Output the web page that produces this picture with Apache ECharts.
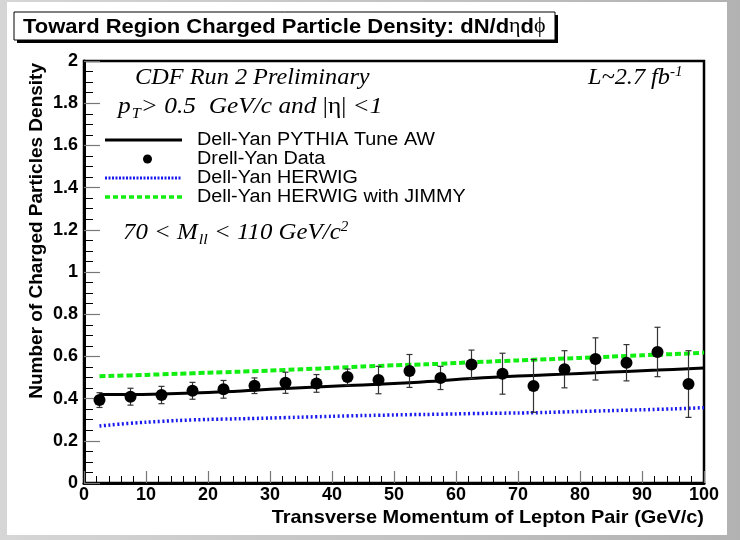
<!DOCTYPE html>
<html>
<head>
<meta charset="utf-8">
<script src="https://cdn.jsdelivr.net/npm/echarts@6/dist/echarts.min.js"></script>
<style>
  html, body { margin: 0; padding: 0; }
  #chart { width: 740px; height: 540px; }
</style>
</head>
<body>
<div id="chart"></div>
<script>
// Transverse momentum bin centres (GeV/c)
const binCenters = [2.5, 7.5, 12.5, 17.5, 22.5, 27.5, 32.5, 37.5, 42.5, 47.5,
                    52.5, 57.5, 62.5, 67.5, 72.5, 77.5, 82.5, 87.5, 92.5, 97.5];
// Drell-Yan data: density and its uncertainty
const dataValues = [0.393, 0.409, 0.417, 0.437, 0.444, 0.461, 0.475, 0.472, 0.502, 0.488,
                    0.531, 0.498, 0.562, 0.518, 0.460, 0.539, 0.588, 0.570, 0.621, 0.469];
const dataErrors = [0.035, 0.040, 0.041, 0.040, 0.042, 0.037, 0.050, 0.042, 0.038, 0.065,
                    0.078, 0.055, 0.068, 0.097, 0.125, 0.088, 0.100, 0.086, 0.117, 0.158];
// Model predictions, sampled along pT
const curvePt      = [2.5, 7.5, 12.5, 17.5, 22.5, 27.5, 32.5, 37.5, 42.5, 47.5,
                      52.5, 57.5, 62.5, 67.5, 72.5, 77.5, 82.5, 87.5, 92.5, 97.5, 100];
const pythiaAW     = [0.420, 0.420, 0.422, 0.426, 0.432, 0.440, 0.448, 0.455, 0.462, 0.468,
                      0.475, 0.485, 0.495, 0.503, 0.510, 0.516, 0.523, 0.529, 0.535, 0.542, 0.545];
const herwig       = [0.270, 0.283, 0.292, 0.299, 0.303, 0.306, 0.310, 0.314, 0.318, 0.321,
                      0.324, 0.326, 0.329, 0.331, 0.333, 0.337, 0.341, 0.345, 0.349, 0.354, 0.357];
const herwigJimmy  = [0.506, 0.510, 0.515, 0.520, 0.525, 0.530, 0.536, 0.542, 0.549, 0.555,
                      0.560, 0.565, 0.572, 0.578, 0.584, 0.590, 0.596, 0.602, 0.608, 0.614, 0.618];
// Axis ticks
const xTicks = [0, 10, 20, 30, 40, 50, 60, 70, 80, 90, 100];
const yTicks = [0, 0.2, 0.4, 0.6, 0.8, 1, 1.2, 1.4, 1.6, 1.8, 2];

const legendNames = ['Dell-Yan PYTHIA Tune AW', 'Drell-Yan Data', 'Dell-Yan HERWIG', 'Dell-Yan HERWIG with JIMMY'];

const pairs = (xs, ys) => xs.map((x, i) => [x, ys[i]]);
const errData = binCenters.map((x, i) => [x, dataValues[i] - dataErrors[i], dataValues[i] + dataErrors[i]]);

const SANS = 'Arial, "Liberation Sans", Helvetica, sans-serif';
const SERIF = '"Times New Roman", "Liberation Serif", serif';
const WIDE = 1.08; // horizontal stretch of the annotation lettering

const chart = echarts.init(document.getElementById('chart'), null, { renderer: 'canvas' });

const legendX0 = 105, legendX1 = 182, legendTextX = 197;
const legendRows = [140, 159, 178, 197];

chart.setOption({
  animation: false,
  backgroundColor: {
    type: 'linear', x: 0, y: 0, x2: 1, y2: 0,
    colorStops: [{ offset: 0, color: '#d6d6d6' }, { offset: 1, color: '#b2b2b2' }]
  },
  grid: {
    left: 84, right: 36, top: 61, bottom: 57,
    show: true, borderColor: '#000', borderWidth: 2.5, backgroundColor: 'transparent'
  },
  xAxis: {
    type: 'value', min: 0, max: 100, interval: 10,
    axisLine: { show: true, onZero: false, lineStyle: { color: '#000', width: 3 } },
    axisTick: { show: true, inside: true, length: 12, lineStyle: { color: '#777', width: 1.2 } },
    minorTick: { show: true, splitNumber: 5, length: 7, lineStyle: { color: '#000', width: 1 } },
    splitLine: { show: false },
    axisLabel: {
      margin: 3, color: '#000', fontFamily: SANS, fontWeight: 'bold', fontSize: 18,
      formatter: v => (xTicks.includes(v) ? String(v) : '')
    }
  },
  yAxis: {
    type: 'value', min: 0, max: 2, interval: 0.2,
    axisLine: { show: true, onZero: false, lineStyle: { color: '#000', width: 3 } },
    axisTick: { show: true, inside: true, length: 16, lineStyle: { color: '#777', width: 1.2 } },
    minorTick: { show: true, splitNumber: 4, length: 9, lineStyle: { color: '#000', width: 1 } },
    splitLine: { show: false },
    axisLabel: {
      margin: 6, color: '#000', fontFamily: SANS, fontWeight: 'bold', fontSize: 18,
      formatter: v => {
        const t = yTicks.find(y => Math.abs(y - v) < 1e-9);
        return t === undefined ? '' : String(t);
      }
    }
  },
  series: [
    {
      name: legendNames[2], type: 'line', data: pairs(curvePt, herwig),
      smooth: true, showSymbol: false, z: 2,
      lineStyle: { color: '#1a1aee', width: 3.5, type: [2, 2.5] }
    },
    {
      name: legendNames[0], type: 'line', data: pairs(curvePt, pythiaAW),
      smooth: true, showSymbol: false, z: 3,
      lineStyle: { color: '#000', width: 3 }
    },
    {
      name: legendNames[3], type: 'line', data: pairs(curvePt, herwigJimmy),
      smooth: true, showSymbol: false, z: 3,
      lineStyle: { color: '#11ee11', width: 4, type: [6, 3] }
    },
    {
      name: 'errors', type: 'custom', z: 4, data: errData,
      renderItem: (params, api) => {
        const x = api.value(0);
        const lo = api.coord([x, api.value(1)]);
        const hi = api.coord([x, api.value(2)]);
        const cap = 3;
        const st = { stroke: '#333', lineWidth: 1.2 };
        return {
          type: 'group',
          children: [
            { type: 'line', shape: { x1: lo[0], y1: lo[1], x2: hi[0], y2: hi[1] }, style: st },
            { type: 'line', shape: { x1: lo[0] - cap, y1: lo[1], x2: lo[0] + cap, y2: lo[1] }, style: st },
            { type: 'line', shape: { x1: hi[0] - cap, y1: hi[1], x2: hi[0] + cap, y2: hi[1] }, style: st }
          ]
        };
      }
    },
    {
      name: legendNames[1], type: 'scatter', data: pairs(binCenters, dataValues),
      symbol: 'circle', symbolSize: 12, z: 5,
      itemStyle: { color: '#000', opacity: 1 }
    }
  ],
  graphic: [
    // white page panel
    { type: 'rect', z: -10, silent: true, shape: { x: 7, y: 2, width: 720, height: 533 }, style: { fill: '#fff' } },
    // title box with drop shadow
    { type: 'rect', z: 10, shape: { x: 17, y: 15, width: 541, height: 28 }, style: { fill: '#000' } },
    { type: 'rect', z: 11, shape: { x: 14, y: 12, width: 541, height: 28 }, style: { fill: '#fff', stroke: '#000', lineWidth: 1 } },
    {
      type: 'text', z: 12, x: 23, y: 27, scaleX: 1.1,
      style: {
        text: '{b|Toward Region Charged Particle Density: dN/d}{s|η}{b|d}{s|ϕ}',
        verticalAlign: 'middle',
        rich: {
          b: { fontFamily: SANS, fontWeight: 'bold', fontSize: 20, fill: '#000' },
          s: { fontFamily: SERIF, fontSize: 20, fill: '#000' }
        }
      }
    },
    // annotations
    {
      type: 'text', z: 12, x: 135, y: 78, scaleX: WIDE,
      style: { text: 'CDF Run 2 Preliminary', font: 'italic 22.5px ' + SERIF, fill: '#000', verticalAlign: 'middle' }
    },
    {
      type: 'text', z: 12, x: 118, y: 107, scaleX: WIDE,
      style: {
        text: '{i|p}{sub|T}{i|> 0.5  GeV/c and }{n||η|}{i| <1}',
        verticalAlign: 'middle',
        rich: {
          i: { fontFamily: SERIF, fontStyle: 'italic', fontSize: 23.5, fill: '#000' },
          n: { fontFamily: SERIF, fontSize: 23.5, fill: '#000' },
          sub: { fontFamily: SERIF, fontStyle: 'italic', fontSize: 15, fill: '#000', padding: [14, 0, 0, 1] }
        }
      }
    },
    {
      type: 'text', z: 12, x: 123, y: 233, scaleX: WIDE,
      style: {
        text: '{i|70 < M}{sub|ll}{i| < 110 GeV/c}{sup|2}',
        verticalAlign: 'middle',
        rich: {
          i: { fontFamily: SERIF, fontStyle: 'italic', fontSize: 23, fill: '#000' },
          sub: { fontFamily: SERIF, fontStyle: 'italic', fontSize: 15, fill: '#000', padding: [14, 0, 0, 1] },
          sup: { fontFamily: SERIF, fontStyle: 'italic', fontSize: 14, fill: '#000', padding: [0, 0, 12, 0] }
        }
      }
    },
    {
      type: 'text', z: 12, x: 588, y: 78, scaleX: WIDE,
      style: {
        text: '{i|L~2.7 fb}{sup|-1}',
        verticalAlign: 'middle',
        rich: {
          i: { fontFamily: SERIF, fontStyle: 'italic', fontSize: 22.5, fill: '#000' },
          sup: { fontFamily: SERIF, fontStyle: 'italic', fontSize: 14, fill: '#000', padding: [0, 0, 12, 0] }
        }
      }
    },
    // legend
    { type: 'line', z: 12, shape: { x1: legendX0, y1: legendRows[0], x2: legendX1, y2: legendRows[0] }, style: { stroke: '#000', lineWidth: 3 } },
    { type: 'circle', z: 12, shape: { cx: (legendX0 + legendX1) / 2 + 4, cy: legendRows[1], r: 4.5 }, style: { fill: '#000' } },
    { type: 'line', z: 12, shape: { x1: legendX0, y1: legendRows[2], x2: legendX1, y2: legendRows[2] }, style: { stroke: '#1a1aee', lineWidth: 3, lineDash: [2, 1.5] } },
    { type: 'line', z: 12, shape: { x1: legendX0, y1: legendRows[3], x2: legendX1, y2: legendRows[3] }, style: { stroke: '#11ee11', lineWidth: 3.5, lineDash: [5, 3] } },
    ...legendNames.map((name, i) => ({
      type: 'text', z: 12, x: legendTextX, y: legendRows[i], scaleX: 1.1,
      style: { text: name, font: '18px ' + SANS, fill: '#000', verticalAlign: 'middle' }
    })),
    // axis titles
    {
      type: 'text', z: 12, x: 704, y: 518, scaleX: 1.05,
      style: { text: 'Transverse Momentum of Lepton Pair (GeV/c)', font: 'bold 19px ' + SANS, fill: '#000', align: 'right', verticalAlign: 'middle' }
    },
    {
      type: 'text', z: 12, x: 37, y: 63, rotation: Math.PI / 2,
      style: { text: 'Number of Charged Particles Density', font: 'bold 19px ' + SANS, fill: '#000', align: 'right', verticalAlign: 'middle' }
    }
  ]
});
</script>
</body>
</html>
